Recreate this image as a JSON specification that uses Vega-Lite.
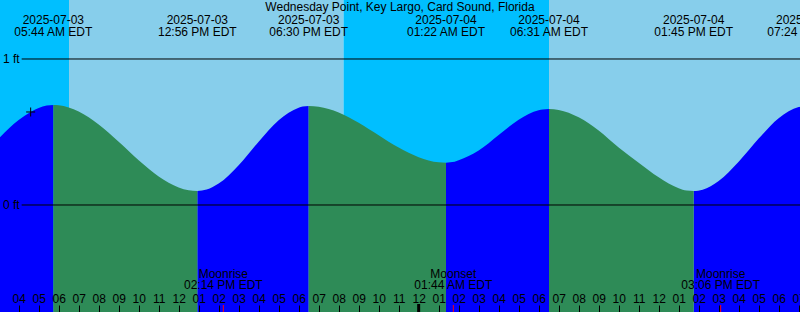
{
  "$schema": "https://vega.github.io/schema/vega-lite/v6.json",
  "width": 800,
  "height": 312,
  "autosize": "none",
  "padding": 0,
  "config": {
    "view": {"stroke": null},
    "text": {"font": "Liberation Sans", "fontSize": 12, "color": "#000000"}
  },
  "datasets": {
    "sky": [
      {"h": 2, "h2": 6.517, "period": "night"},
      {"h": 6.517, "h2": 20.233, "period": "day"},
      {"h": 20.233, "h2": 30.517, "period": "night"},
      {"h": 30.517, "h2": 45, "period": "day"}
    ],
    "tide": [
      {"h": 3.0, "ft": 0.455, "seg": 0, "phase": "rising"},
      {"h": 4.0, "ft": 0.582, "seg": 0, "phase": "rising"},
      {"h": 4.6, "ft": 0.637, "seg": 0, "phase": "rising"},
      {"h": 5.0, "ft": 0.665, "seg": 0, "phase": "rising"},
      {"h": 5.4, "ft": 0.681, "seg": 0, "phase": "rising"},
      {"h": 5.733, "ft": 0.685, "seg": 0, "phase": "rising"},
      {"h": 5.733, "ft": 0.685, "seg": 1, "phase": "falling"},
      {"h": 6.0, "ft": 0.683, "seg": 1, "phase": "falling"},
      {"h": 7.0, "ft": 0.641, "seg": 1, "phase": "falling"},
      {"h": 8.0, "ft": 0.552, "seg": 1, "phase": "falling"},
      {"h": 9.0, "ft": 0.433, "seg": 1, "phase": "falling"},
      {"h": 10.0, "ft": 0.306, "seg": 1, "phase": "falling"},
      {"h": 11.0, "ft": 0.195, "seg": 1, "phase": "falling"},
      {"h": 12.0, "ft": 0.120, "seg": 1, "phase": "falling"},
      {"h": 12.5, "ft": 0.101, "seg": 1, "phase": "falling"},
      {"h": 12.933, "ft": 0.096, "seg": 1, "phase": "falling"},
      {"h": 12.933, "ft": 0.096, "seg": 2, "phase": "rising"},
      {"h": 13.4, "ft": 0.106, "seg": 2, "phase": "rising"},
      {"h": 14.0, "ft": 0.147, "seg": 2, "phase": "rising"},
      {"h": 15.0, "ft": 0.273, "seg": 2, "phase": "rising"},
      {"h": 16.0, "ft": 0.434, "seg": 2, "phase": "rising"},
      {"h": 17.0, "ft": 0.580, "seg": 2, "phase": "rising"},
      {"h": 18.0, "ft": 0.666, "seg": 2, "phase": "rising"},
      {"h": 18.2, "ft": 0.674, "seg": 2, "phase": "rising"},
      {"h": 18.5, "ft": 0.678, "seg": 2, "phase": "rising"},
      {"h": 18.5, "ft": 0.678, "seg": 3, "phase": "falling"},
      {"h": 19.0, "ft": 0.673, "seg": 3, "phase": "falling"},
      {"h": 20.0, "ft": 0.634, "seg": 3, "phase": "falling"},
      {"h": 21.0, "ft": 0.564, "seg": 3, "phase": "falling"},
      {"h": 22.0, "ft": 0.478, "seg": 3, "phase": "falling"},
      {"h": 23.0, "ft": 0.393, "seg": 3, "phase": "falling"},
      {"h": 24.0, "ft": 0.327, "seg": 3, "phase": "falling"},
      {"h": 25.0, "ft": 0.292, "seg": 3, "phase": "falling"},
      {"h": 25.367, "ft": 0.290, "seg": 3, "phase": "falling"},
      {"h": 25.367, "ft": 0.290, "seg": 4, "phase": "rising"},
      {"h": 25.8, "ft": 0.296, "seg": 4, "phase": "rising"},
      {"h": 26.0, "ft": 0.306, "seg": 4, "phase": "rising"},
      {"h": 27.0, "ft": 0.373, "seg": 4, "phase": "rising"},
      {"h": 28.0, "ft": 0.480, "seg": 4, "phase": "rising"},
      {"h": 29.0, "ft": 0.584, "seg": 4, "phase": "rising"},
      {"h": 30.0, "ft": 0.649, "seg": 4, "phase": "rising"},
      {"h": 30.2, "ft": 0.654, "seg": 4, "phase": "rising"},
      {"h": 30.517, "ft": 0.658, "seg": 4, "phase": "rising"},
      {"h": 30.517, "ft": 0.658, "seg": 5, "phase": "falling"},
      {"h": 31.0, "ft": 0.651, "seg": 5, "phase": "falling"},
      {"h": 32.0, "ft": 0.601, "seg": 5, "phase": "falling"},
      {"h": 33.0, "ft": 0.510, "seg": 5, "phase": "falling"},
      {"h": 34.0, "ft": 0.393, "seg": 5, "phase": "falling"},
      {"h": 35.0, "ft": 0.290, "seg": 5, "phase": "falling"},
      {"h": 36.0, "ft": 0.190, "seg": 5, "phase": "falling"},
      {"h": 37.0, "ft": 0.115, "seg": 5, "phase": "falling"},
      {"h": 37.4, "ft": 0.099, "seg": 5, "phase": "falling"},
      {"h": 37.75, "ft": 0.096, "seg": 5, "phase": "falling"},
      {"h": 37.75, "ft": 0.096, "seg": 6, "phase": "rising"},
      {"h": 38.2, "ft": 0.105, "seg": 6, "phase": "rising"},
      {"h": 39.0, "ft": 0.164, "seg": 6, "phase": "rising"},
      {"h": 40.0, "ft": 0.296, "seg": 6, "phase": "rising"},
      {"h": 41.0, "ft": 0.455, "seg": 6, "phase": "rising"},
      {"h": 42.0, "ft": 0.595, "seg": 6, "phase": "rising"},
      {"h": 43.0, "ft": 0.671, "seg": 6, "phase": "rising"},
      {"h": 43.4, "ft": 0.678, "seg": 6, "phase": "rising"}
    ],
    "levels": [
      {"h": 4.15, "h2": 44, "ft": 1, "label": "1 ft"},
      {"h": 4.15, "h2": 44, "ft": 0, "label": "0 ft"}
    ],
    "events": [
      {"h": 5.733, "label": "2025-07-03\n05:44 AM EDT"},
      {"h": 12.933, "label": "2025-07-03\n12:56 PM EDT"},
      {"h": 18.5, "label": "2025-07-03\n06:30 PM EDT"},
      {"h": 25.367, "label": "2025-07-04\n01:22 AM EDT"},
      {"h": 30.517, "label": "2025-07-04\n06:31 AM EDT"},
      {"h": 37.75, "label": "2025-07-04\n01:45 PM EDT"},
      {"h": 43.4, "label": "2025-07-04\n07:24 PM EDT"}
    ],
    "moon": [
      {"h": 14.233, "label": "Moonrise\n02:14 PM EDT"},
      {"h": 25.733, "label": "Moonset\n01:44 AM EDT"},
      {"h": 39.1, "label": "Moonrise\n03:06 PM EDT"}
    ],
    "midnight": [{"h": 24}],
    "now": [{"h": 4.6, "ft": 0.637}],
    "heading": [{"h": 23.0667, "label": "Wednesday Point, Key Largo, Card Sound, Florida"}]
  },
  "encoding": {
    "x": {
      "field": "h",
      "type": "quantitative",
      "scale": {"domain": [3.0667, 43.0667], "nice": false, "zero": false},
      "axis": {
        "orient": "bottom",
        "tickCount": 40,
        "labelExpr": "(datum.value % 12 == 0 ? '12' : (datum.value % 12 < 10 ? '0' : '') + toString(datum.value % 12))",
        "domain": false,
        "grid": false,
        "tickSize": -7,
        "tickColor": "#000000",
        "labelPadding": -3,
        "labelBaseline": "alphabetic",
        "labelFont": "Liberation Sans",
        "labelFontSize": 12,
        "labelColor": "#000000",
        "labelOverlap": false,
        "labelFlush": false,
        "title": null,
        "zindex": 1
      }
    }
  },
  "layer": [
    {
      "data": {"name": "sky"},
      "transform": [{"filter": "datum.period == 'night'"}],
      "mark": {"type": "rect", "color": "#00BFFF"},
      "encoding": {"x2": {"field": "h2"}}
    },
    {
      "data": {"name": "sky"},
      "transform": [{"filter": "datum.period == 'day'"}],
      "mark": {"type": "rect", "color": "#87CEEB"},
      "encoding": {"x2": {"field": "h2"}}
    },
    {
      "data": {"name": "tide"},
      "transform": [{"filter": "datum.phase == 'rising'"}],
      "mark": {"type": "area", "interpolate": "monotone", "clip": true, "color": "#0000FF"},
      "encoding": {
        "y": {"field": "ft", "type": "quantitative", "scale": {"domain": [-0.7329, 1.4041], "nice": false, "zero": false}, "axis": null},
        "y2": {"datum": -0.8},
        "detail": {"field": "seg", "type": "nominal"}
      }
    },
    {
      "data": {"name": "tide"},
      "transform": [{"filter": "datum.phase == 'falling'"}],
      "mark": {"type": "area", "interpolate": "monotone", "clip": true, "color": "#2E8B57"},
      "encoding": {
        "y": {"field": "ft", "type": "quantitative", "scale": {"domain": [-0.7329, 1.4041], "nice": false, "zero": false}, "axis": null},
        "y2": {"datum": -0.8},
        "detail": {"field": "seg", "type": "nominal"}
      }
    },
    {
      "data": {"name": "levels"},
      "mark": {"type": "rule", "color": "#000000", "strokeWidth": 1, "clip": true},
      "encoding": {
        "x2": {"field": "h2"},
        "y": {"field": "ft", "type": "quantitative"}
      }
    },
    {
      "data": {"name": "levels"},
      "mark": {"type": "text", "align": "right", "baseline": "middle", "dx": -2},
      "encoding": {
        "y": {"field": "ft", "type": "quantitative"},
        "text": {"field": "label"}
      }
    },
    {
      "data": {"name": "events"},
      "mark": {"type": "text", "align": "center", "baseline": "alphabetic", "lineBreak": "\n", "lineHeight": 12},
      "encoding": {
        "y": {"datum": 1.2377},
        "text": {"field": "label"}
      }
    },
    {
      "data": {"name": "heading"},
      "mark": {"type": "text", "align": "center", "baseline": "alphabetic"},
      "encoding": {
        "y": {"datum": 1.332},
        "text": {"field": "label"}
      }
    },
    {
      "data": {"name": "moon"},
      "mark": {"type": "text", "align": "center", "baseline": "alphabetic", "lineBreak": "\n", "lineHeight": 11.5},
      "encoding": {
        "y": {"datum": -0.5},
        "text": {"field": "label"}
      }
    },
    {
      "data": {"name": "moon"},
      "mark": {"type": "rule", "color": "#FF0000", "strokeWidth": 1},
      "encoding": {
        "y": {"datum": -0.685},
        "y2": {"datum": -0.76}
      }
    },
    {
      "data": {"name": "midnight"},
      "mark": {"type": "rule", "color": "#000000", "strokeWidth": 3},
      "encoding": {
        "y": {"datum": -0.678},
        "y2": {"datum": -0.76}
      }
    },
    {
      "data": {"name": "now"},
      "mark": {"type": "point", "shape": "M-1,0H1M0,-1V1", "size": 81, "filled": false, "stroke": "#000000", "strokeWidth": 1, "opacity": 1},
      "encoding": {
        "y": {"field": "ft", "type": "quantitative"}
      }
    }
  ]
}
